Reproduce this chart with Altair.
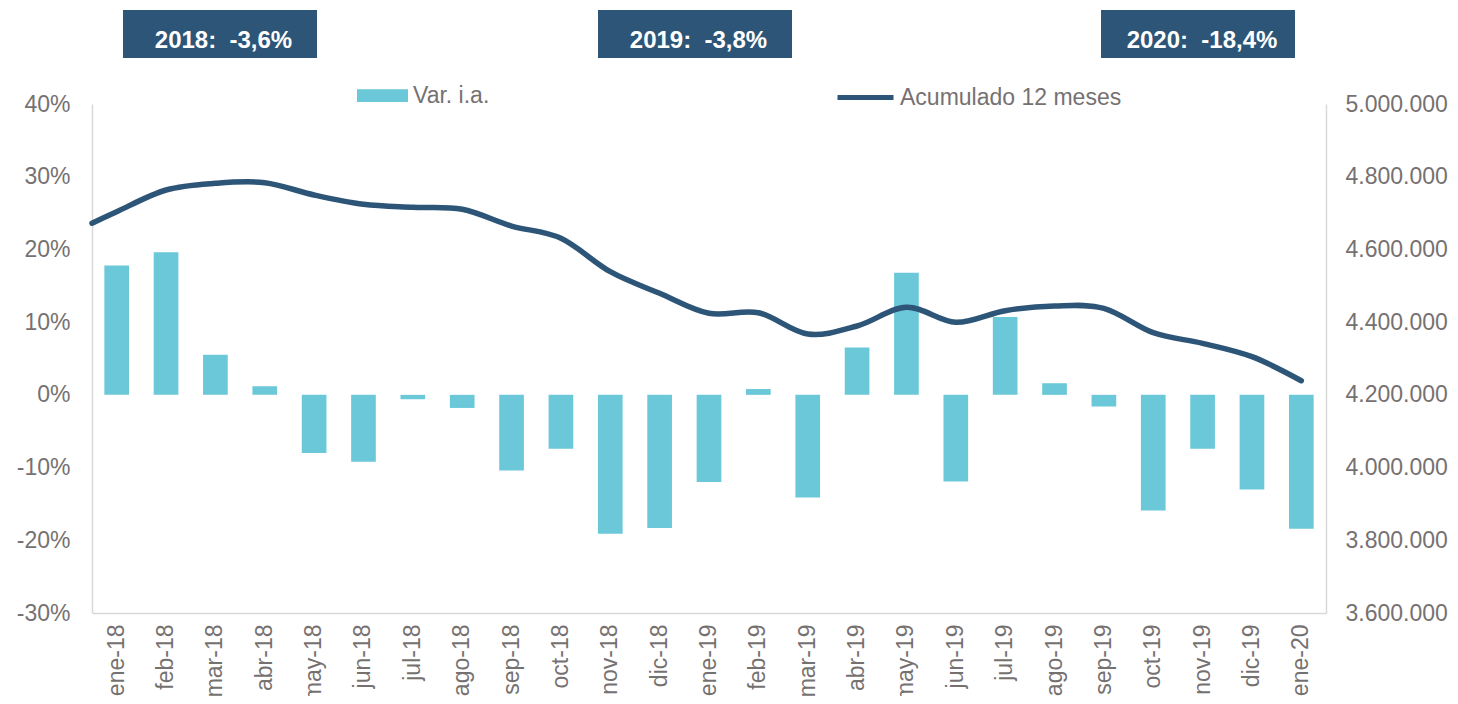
import altair as alt
import pandas as pd

meses = ["ene-18", "feb-18", "mar-18", "abr-18", "may-18", "jun-18", "jul-18",
         "ago-18", "sep-18", "oct-18", "nov-18", "dic-18", "ene-19", "feb-19",
         "mar-19", "abr-19", "may-19", "jun-19", "jul-19", "ago-19", "sep-19",
         "oct-19", "nov-19", "dic-19", "ene-20"]

var_ia = [17.8, 19.6, 5.5, 1.2, -8.0, -9.2, -0.6, -1.8, -10.4, -7.4, -19.1,
          -18.3, -12.0, 0.8, -14.1, 6.5, 16.8, -11.9, 10.7, 1.6, -1.6, -15.9,
          -7.4, -13.0, -18.4]

acum_12m = [4703800, 4763500, 4781900, 4783500, 4749700, 4724100, 4715900,
            4710400, 4664400, 4630600, 4538700, 4479300, 4424300, 4426000,
            4367400, 4389400, 4440800, 4399600, 4431500, 4444400, 4438100,
            4371000, 4341800, 4305000, 4238900]
acum_borde_izq = 4672000  # value where the line enters at the plot's left edge

ticks_izq = [-30, -20, -10, 0, 10, 20, 30, 40]
ticks_der = [3600000, 3800000, 4000000, 4200000, 4400000, 4600000, 4800000, 5000000]

resumen = ["2018:\u00a0 -3,6%", "2019:\u00a0 -3,8%", "2020:\u00a0 -18,4%"]

serie_barras = "Var. i.a."
serie_linea = "Acumulado 12 meses"

GRIS = "#767171"
CIAN = "#6BC8D9"
AZUL = "#2D5578"
FUENTE = "Liberation Sans"

df_bar = pd.DataFrame({"mes": meses, "var": var_ia, "serie": serie_barras})
df_line = pd.DataFrame({
    "idx": [-0.5] + list(range(len(meses))),
    "acum": [acum_borde_izq] + acum_12m,
    "serie": serie_linea,
})

bars = alt.Chart(df_bar).mark_bar(color=CIAN).encode(
    x=alt.X("mes:N", sort=meses,
            scale=alt.Scale(paddingInner=0.5, paddingOuter=0.25),
            axis=alt.Axis(title=None, labelAngle=-90, labelPadding=11,
                          labelFontSize=23)),
    y=alt.Y("var:Q", scale=alt.Scale(domain=[-30, 40], nice=False, zero=False),
            axis=alt.Axis(title=None, values=ticks_izq, labelPadding=22,
                          labelExpr="datum.value + '%'")),
    color=alt.Color("serie:N", title=None,
                    scale=alt.Scale(domain=[serie_barras], range=[CIAN]),
                    legend=alt.Legend(orient="none", legendX=265, legendY=-34,
                                      symbolType="M-1,-0.25L1,-0.25L1,0.25L-1,0.25Z",
                                      symbolSize=2601, symbolStrokeWidth=0,
                                      labelFont=FUENTE, labelFontSize=23,
                                      labelColor=GRIS, labelOffset=5, padding=0,
                                      labelLimit=400)),
)

line = alt.Chart(df_line).mark_line(strokeWidth=5.5, interpolate="cardinal",
                                    strokeCap="round").encode(
    x=alt.X("idx:Q", scale=alt.Scale(domain=[-0.5, len(meses) - 0.5], nice=False,
                                     zero=False),
            axis=None),
    y=alt.Y("acum:Q", scale=alt.Scale(domain=[3600000, 5000000], nice=False,
                                      zero=False),
            axis=alt.Axis(title=None, orient="right", values=ticks_der,
                          labelPadding=19,
                          labelExpr="replace(replace(format(datum.value, ',d'), ',', '.'), ',', '.')")),
    stroke=alt.Stroke("serie:N", title=None,
                      scale=alt.Scale(domain=[serie_linea], range=[AZUL]),
                      legend=alt.Legend(orient="none", legendX=743, legendY=-37,
                                        symbolType="stroke", symbolSize=3136,
                                        symbolStrokeWidth=5,
                                        labelFont=FUENTE, labelFontSize=23,
                                        labelColor=GRIS, labelOffset=4, padding=0,
                                        labelLimit=400)),
)

cajas = []
geometria = [(31, 225, 131.5), (506, 700, 606.5), (1009, 1203, 1110)]
for texto, (x0, x1, xc) in zip(resumen, geometria):
    d = pd.DataFrame({"t": [texto]})
    cajas.append(alt.Chart(d).mark_rect(color=AZUL).encode(
        x=alt.value(x0), x2=alt.value(x1), y=alt.value(-94), y2=alt.value(-46)))
    cajas.append(alt.Chart(d).mark_text(color="white", font=FUENTE, fontSize=24,
                                        fontWeight="bold", align="center",
                                        baseline="alphabetic").encode(
        text="t:N", x=alt.value(xc), y=alt.value(-56.5)))

chart = alt.layer(bars, line, *cajas).resolve_scale(
    x="independent", y="independent", color="independent", stroke="independent"
).properties(
    width=1234, height=509,
    autosize=alt.AutoSizeParams(type="none"),
    padding={"left": 84, "top": 96, "right": 124, "bottom": 83},
).configure_view(stroke=None).configure_axis(
    domainColor="#D9D9D9", domainWidth=1.5, ticks=False, grid=False,
    labelFont=FUENTE, labelFontSize=23, labelColor=GRIS,
)

chart.save("out.html", embed_options={"renderer": "svg", "actions": False})
